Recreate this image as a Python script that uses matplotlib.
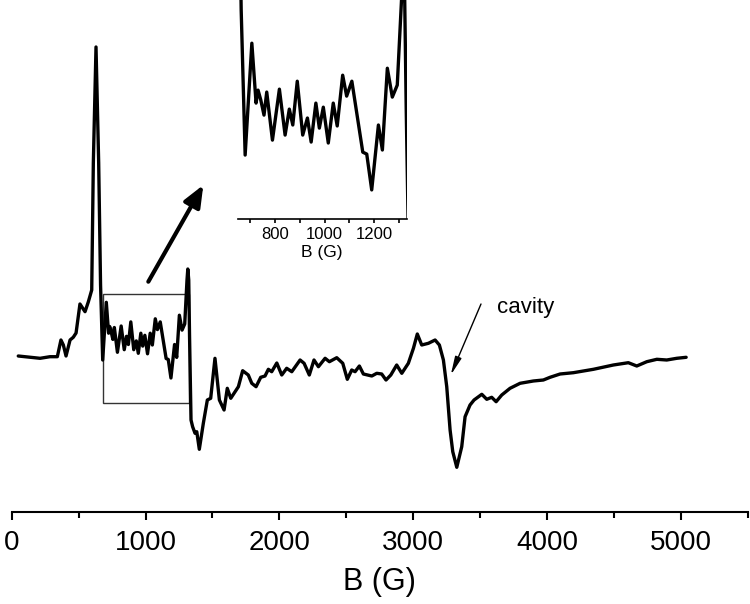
import matplotlib
matplotlib.use("Agg")
import matplotlib.pyplot as plt
from matplotlib.patches import Rectangle

plt.rcParams['font.family'] = ['Liberation Sans', 'DejaVu Sans']

# spectrum (B in gauss, intensity in arbitrary units)
b_field = [49, 137, 212, 286, 341, 368, 386, 406, 436, 460, 481, 510, 548, 573,
           598, 610, 630, 650, 664, 680, 707, 724, 732, 743, 756, 767, 790, 818,
           841, 858, 872, 890, 912, 931, 946, 965, 979, 995, 1015, 1035, 1051,
           1073, 1089, 1110, 1140, 1154, 1170, 1190, 1217, 1233, 1253, 1273,
           1293, 1310, 1316, 1323, 1329, 1340, 1352, 1370, 1383, 1402, 1432,
           1462, 1487, 1519, 1552, 1587, 1611, 1637, 1694, 1726, 1768, 1794,
           1826, 1861, 1893, 1918, 1943, 1981, 2018, 2055, 2093, 2155, 2185,
           2224, 2259, 2292, 2342, 2374, 2429, 2474, 2508, 2541, 2566, 2598,
           2628, 2691, 2728, 2765, 2797, 2833, 2877, 2915, 2964, 3002, 3031,
           3064, 3114, 3164, 3196, 3226, 3251, 3276, 3296, 3326, 3363, 3388,
           3425, 3455, 3513, 3550, 3587, 3620, 3662, 3724, 3799, 3898, 3973,
           4023, 4098, 4197, 4347, 4496, 4608, 4671, 4746, 4821, 4895, 4970,
           5040]
intensity = [-1, -2.3, -3.3, -1.7, -1.7, 15, 10, -1, 15, 17.7, 22, 51, 43.3, 53.3,
             65, 192, 308, 192, 70, -5, 52.7, 21.8, 28.5, 23.4, 15.6, 27.5, 2.7, 29,
             5.3, 18.7, 10.5, 33.1, 5.3, 14.1, 1.7, 21.8, 8.9, 19.7, 1.2, 21.8, 10,
             36.2, 25.4, 33.1, 7.9, -3.5, -4.5, -23, 10.5, -2.4, 39.8, 24.9,
             31.1, 75, 86, 75, 19, -65, -71.7, -78.3, -76.7, -94.3, -68.3,
             -45, -43.3, -3.3, -45, -55, -33.3, -43.3, -31.7, -15.7, -20, -28.3,
             -31.7, -22.3, -21, -14.3, -16.7, -8, -20, -13.3, -16.7, -5, -8.3,
             -20, -5, -11.7, -3.3, -6.7, -2.7, -8.3, -24.3, -15, -16.7, -11,
             -19, -21, -18.3, -19, -25, -20, -10, -18.3, -8.3, 6.7, 21,
             10, 11.7, 15, 10, -5, -31.7, -75, -96.7, -112.3, -91.7, -61.7,
             -50, -45, -39.3, -44.3, -42.3, -46.7, -40, -33.3, -28.3, -26, -25,
             -22.3, -19, -17.7, -14.3, -10, -7.7, -11, -6.7, -4.3, -5, -3.3,
             -2.3]

main_ticks = [0, 1000, 2000, 3000, 4000, 5000]
main_minor = [500, 1500, 2500, 3500, 4500, 5500]
inset_ticks = [800, 1000, 1200]
inset_minor = [700, 900, 1100, 1300]

fig = plt.figure(figsize=(7.5, 6.04), dpi=100)

# main spectrum
ax = fig.add_axes([11.7 / 750, (604 - 511.7) / 604, 736 / 750, 511.7 / 604])
ax.plot(b_field, intensity, color='black', lw=2.4, solid_joinstyle='round',
        solid_capstyle='round')
ax.set_xlim(0, 5500)
ax.set_ylim(-156.7, 355)
for s in ['left', 'right', 'top']:
    ax.spines[s].set_visible(False)
ax.spines['bottom'].set_linewidth(1.5)
ax.set_yticks([])
ax.set_xticks(main_ticks)
ax.set_xticks(main_minor, minor=True)
ax.tick_params(axis='x', which='major', length=6, width=1.5, labelsize=20, pad=7)
ax.tick_params(axis='x', which='minor', length=4.5, width=1.5)
ax.set_xlabel('B (G)', fontsize=22, labelpad=8)

# zoom box and arrow to inset
ax.add_patch(Rectangle((682, -47.7), 645, 108.4, fill=False,
                       edgecolor='#333333', lw=1))
ax.annotate('', xy=(1432, 170), xytext=(1021, 73.3),
            arrowprops=dict(arrowstyle='-|>,head_length=0.65,head_width=0.27',
                            mutation_scale=20, lw=3, color='black',
                            shrinkA=0, shrinkB=0))

# cavity label
ax.annotate('', xy=(3281, -20), xytext=(3507, 51),
            arrowprops=dict(arrowstyle='-|>,head_length=0.55,head_width=0.1',
                            mutation_scale=20, lw=1, color='black',
                            shrinkA=0, shrinkB=0))
ax.text(3627, 48, 'cavity', fontsize=16, va='center', ha='left')

# inset
ins = fig.add_axes([237.7 / 750, (604 - 219) / 604, 169 / 750, 219 / 604])
ins.patch.set_visible(False)
ins.plot(b_field, intensity, color='black', lw=2.4, solid_joinstyle='round',
         solid_capstyle='round')
ins.set_xlim(650, 1331)
ins.set_ylim(-38, 75)
for s in ['left', 'right', 'top']:
    ins.spines[s].set_visible(False)
ins.spines['bottom'].set_linewidth(1.2)
ins.set_yticks([])
ins.set_xticks(inset_ticks)
ins.set_xticks(inset_minor, minor=True)
ins.tick_params(axis='x', which='both', length=3, width=1.2, labelsize=12, pad=3)
ins.set_xlabel('B (G)', fontsize=12.5, labelpad=2)

fig.savefig('out.png', dpi=100)
